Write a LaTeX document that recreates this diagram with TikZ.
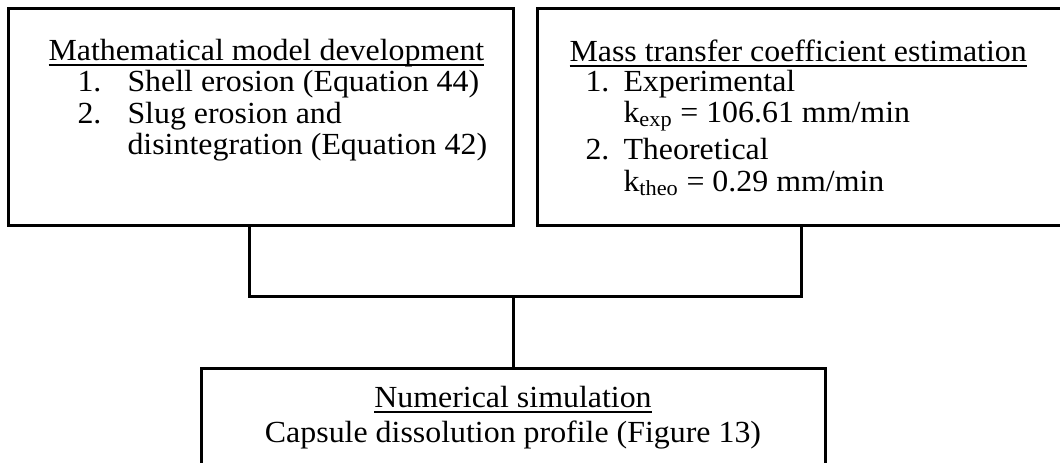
\documentclass[tikz,border=0pt]{standalone}
\usepackage{fontspec}
\setmainfont{Liberation Serif}[FakeStretch=1.04]
\newcommand\myul[1]{\setbox0\hbox{#1}\rlap{\rule[-4.55pt]{\wd0}{1.5pt}}\box0}
\begin{document}
\begin{tikzpicture}[x=0.75pt,y=-0.75pt,line width=2.25pt,
  box/.style={draw,rectangle,inner sep=0pt,outer sep=0pt,anchor=north west},
  txt/.style={anchor=base west,inner sep=0pt,font=\fontsize{23}{28}\selectfont},
  ctxt/.style={anchor=base,inner sep=0pt,font=\fontsize{23}{28}\selectfont}]
\useasboundingbox (0,0) rectangle (1060,462);
% boxes
\node[box,minimum width=378.75pt,minimum height=162.75pt] (lbox) at (8,8) {};
\node[box,minimum width=399.75pt,minimum height=162.75pt] (rbox) at (537,8) {};
\node[box,minimum width=468pt,minimum height=90pt] (bbox) at (201,368) {};
% left box text
\node[txt] (lt) at (47,60) {\myul{Mathematical model development}};
\node[txt] (ln1) at (76,91) {1.};
\node[txt] (li1) at (126,91) {Shell erosion (Equation 44)};
\node[txt] (ln2) at (76,123) {2.};
\node[txt] (li2) at (126,123) {Slug erosion and};
\node[txt] (li2b) at (126,154) {disintegration (Equation 42)};
% right box text
\node[txt] (rt) at (568,61) {\myul{Mass transfer coefficient estimation}};
\node[txt] (rn1) at (584,91) {1.};
\node[txt] (ri1) at (622,91) {Experimental};
\node[txt] (ri1b) at (622,122) {k\textsubscript{exp} = 106.61 mm/min};
\node[txt] (rn2) at (584,159) {2.};
\node[txt] (ri2) at (622,159) {Theoretical};
\node[txt] (ri2b) at (622,191) {k\textsubscript{theo} = 0.29 mm/min};
% bottom box text
\node[ctxt] (bt) at (513,407) {\myul{Numerical simulation}};
\node[ctxt] (bl) at (513,442) {Capsule dissolution profile (Figure 13)};
% connectors
\coordinate (j) at (513,296);
\draw ([xshift=180.75pt]lbox.south west) |- (j) -| ([xshift=198pt]rbox.south west);
\draw (j) -- (bbox.north);
\end{tikzpicture}
\end{document}
